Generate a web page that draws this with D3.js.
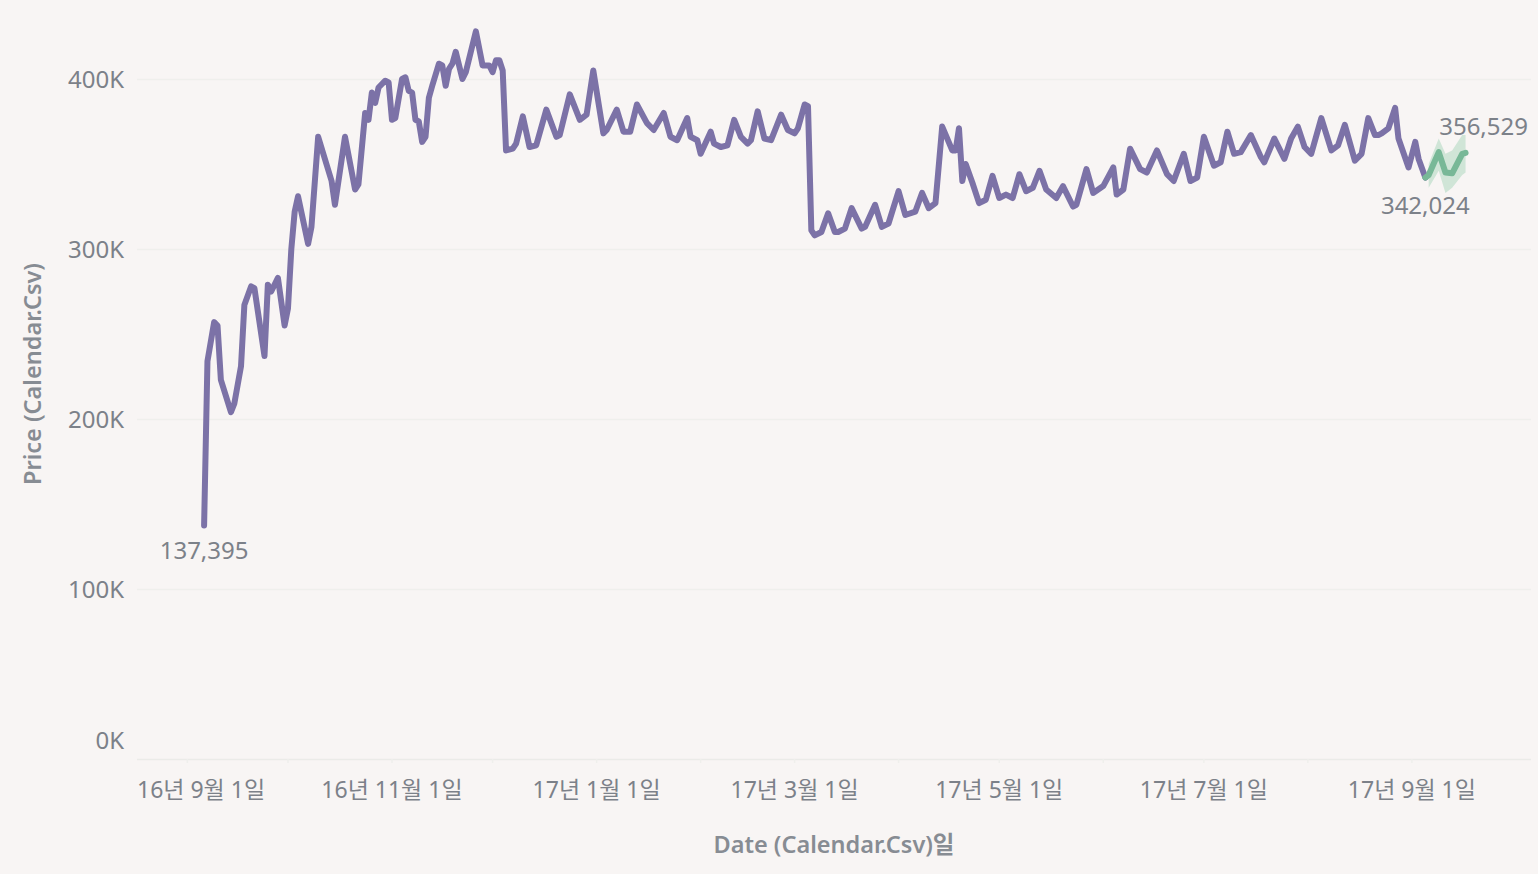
<!DOCTYPE html>
<html>
<head>
<meta charset="utf-8">
<script src="https://cdn.jsdelivr.net/npm/d3@7"></script>
<style>
  html, body { margin: 0; padding: 0; background: #f8f5f4; }
  svg { display: block; }
  text { font-family: "Noto Sans", "Noto Sans CJK KR", sans-serif; }
</style>
</head>
<body>
<svg id="chart"></svg>
<script>
var actualDates = [
  "2016-09-06","2016-09-07","2016-09-09","2016-09-10","2016-09-11","2016-09-14","2016-09-15","2016-09-17","2016-09-18","2016-09-20",
  "2016-09-21","2016-09-24","2016-09-25","2016-09-26","2016-09-28","2016-09-30","2016-10-01","2016-10-02","2016-10-03","2016-10-04",
  "2016-10-07","2016-10-08","2016-10-10","2016-10-14","2016-10-15","2016-10-18","2016-10-21","2016-10-22","2016-10-24","2016-10-25",
  "2016-10-26","2016-10-27","2016-10-28","2016-10-30","2016-10-31","2016-11-01","2016-11-02","2016-11-04","2016-11-05","2016-11-06",
  "2016-11-07","2016-11-08","2016-11-09","2016-11-10","2016-11-11","2016-11-12","2016-11-13","2016-11-15","2016-11-16","2016-11-17",
  "2016-11-18","2016-11-19","2016-11-20","2016-11-22","2016-11-23","2016-11-26","2016-11-28","2016-11-30","2016-12-01","2016-12-02",
  "2016-12-03","2016-12-04","2016-12-05","2016-12-07","2016-12-08","2016-12-10","2016-12-12","2016-12-14","2016-12-17","2016-12-20",
  "2016-12-21","2016-12-24","2016-12-27","2016-12-29","2016-12-31","2017-01-03","2017-01-04","2017-01-07","2017-01-09","2017-01-11",
  "2017-01-13","2017-01-16","2017-01-18","2017-01-21","2017-01-23","2017-01-25","2017-01-28","2017-01-29","2017-01-31","2017-02-01",
  "2017-02-04","2017-02-05","2017-02-07","2017-02-09","2017-02-11","2017-02-13","2017-02-15","2017-02-16","2017-02-18","2017-02-20",
  "2017-02-22","2017-02-25","2017-02-27","2017-03-01","2017-03-02","2017-03-04","2017-03-05","2017-03-06","2017-03-07","2017-03-09",
  "2017-03-11","2017-03-13","2017-03-14","2017-03-16","2017-03-18","2017-03-21","2017-03-22","2017-03-25","2017-03-27","2017-03-29",
  "2017-04-01","2017-04-03","2017-04-06","2017-04-08","2017-04-10","2017-04-12","2017-04-14","2017-04-17","2017-04-18","2017-04-19",
  "2017-04-20","2017-04-21","2017-04-23","2017-04-25","2017-04-27","2017-04-29","2017-05-01","2017-05-03","2017-05-05","2017-05-07",
  "2017-05-09","2017-05-11","2017-05-13","2017-05-15","2017-05-18","2017-05-20","2017-05-23","2017-05-24","2017-05-27","2017-05-29",
  "2017-06-01","2017-06-04","2017-06-05","2017-06-07","2017-06-09","2017-06-12","2017-06-14","2017-06-17","2017-06-20","2017-06-22",
  "2017-06-25","2017-06-27","2017-06-29","2017-07-01","2017-07-04","2017-07-06","2017-07-08","2017-07-10","2017-07-12","2017-07-15",
  "2017-07-18","2017-07-19","2017-07-22","2017-07-23","2017-07-25","2017-07-27","2017-07-29","2017-07-31","2017-08-02","2017-08-05",
  "2017-08-08","2017-08-10","2017-08-12","2017-08-15","2017-08-17","2017-08-19","2017-08-21","2017-08-22","2017-08-23","2017-08-25",
  "2017-08-27","2017-08-28","2017-08-31","2017-09-02","2017-09-03","2017-09-05"
];
var actualValues = [
  137395,234000,257000,255000,223000,204000,209000,231000,267000,278000,
  277000,237000,279000,275000,283000,255000,265000,300000,322000,331000,
  303000,313000,366000,340000,326000,366000,335000,338000,380000,376000,
  392000,386000,395000,399000,398000,376000,377000,400000,401000,393000,
  392000,376000,375000,363000,366000,389000,396000,409000,408000,396000,
  406000,409000,416000,400000,404000,428000,408000,408000,404000,411000,
  411000,405000,358000,359000,362000,378000,360000,361000,382000,366000,
  367000,391000,376000,379000,405000,368000,370000,382000,369000,369000,
  385000,374000,370000,380000,366000,364000,377000,366000,364000,356000,
  369000,362000,360000,361000,376000,366000,362000,364000,381000,365000,
  364000,379000,370000,368000,371000,385000,384000,311000,308000,310000,
  321000,310000,310000,312000,324000,312000,313000,326000,313000,315000,
  334000,320000,322000,333000,324000,327000,372000,358000,358000,371000,
  340000,350000,339000,327000,329000,343000,330000,332000,330000,344000,
  334000,336000,346000,335000,330000,337000,325000,326000,347000,333000,
  337000,348000,332000,335000,359000,347000,345000,358000,344000,340000,
  356000,340000,342000,366000,349000,351000,369000,356000,357000,367000,
  354000,351000,365000,361000,353000,365000,372000,360000,356000,377000,
  358000,361000,373000,352000,356000,377000,367000,367000,368000,371000,
  383000,365000,348000,363000,353000,342024
];

// forecast (green) with its prediction band
var forecastDates = ["2017-09-05","2017-09-06","2017-09-09","2017-09-11","2017-09-13","2017-09-16","2017-09-17"];
var forecastValues = [342024,343500,357000,345000,344500,356000,356529];
var bandDates = ["2017-09-06","2017-09-09","2017-09-11","2017-09-13","2017-09-16","2017-09-17"];
var bandUpper = [350000,365000,356000,358000,367000,367000];
var bandLower = [336000,346000,333000,336000,343500,345000];

var yTicks = [0,100000,200000,300000,400000];
var xTickDates = ["2016-09-01","2016-11-01","2017-01-01","2017-03-01","2017-05-01","2017-07-01","2017-09-01"];

var width = 1538, height = 874;
var parse = d3.timeParse("%Y-%m-%d");

var actual = actualDates.map((d, i) => ({ date: parse(d), value: actualValues[i] }));
var forecast = forecastDates.map((d, i) => ({ date: parse(d), value: forecastValues[i] }));
var band = bandDates.map((d, i) => ({ date: parse(d), hi: bandUpper[i], lo: bandLower[i] }));

var pane = { left: 137, right: 1531, top: 11, bottom: 759 };
var textColor = "#7c8189";

var x = d3.scaleTime()
    .domain([parse("2016-08-17"), parse("2017-10-06")])
    .range([pane.left, pane.left + 415 * 3.355]);
var y = d3.scaleLinear()
    .domain([0, 440000])
    .range([pane.bottom, pane.bottom - 440 * 1.7]);

var svg = d3.select("#chart")
    .attr("width", width)
    .attr("height", height);

svg.append("rect")
    .attr("width", width)
    .attr("height", height)
    .attr("fill", "#f8f5f4");

// gridlines
svg.append("g")
    .selectAll("line")
    .data(yTicks)
    .enter().append("line")
    .attr("x1", pane.left)
    .attr("x2", pane.right)
    .attr("y1", d => Math.round(y(d)) + 0.5)
    .attr("y2", d => Math.round(y(d)) + 0.5)
    .style("stroke", d => d === 0 ? "#ebebe8" : "#efefec")
    .style("stroke-width", 1.5);

// monthly ticks at the bottom
var months = d3.timeMonth.range(parse("2016-09-01"), parse("2017-10-01"));
svg.append("g")
    .selectAll("line")
    .data(months)
    .enter().append("line")
    .attr("x1", d => x(d))
    .attr("x2", d => x(d))
    .attr("y1", pane.bottom)
    .attr("y2", pane.bottom + 4)
    .style("stroke", "#efefec")
    .style("stroke-width", 1.5);

// y axis labels
var fmtK = v => (v / 1000) + "K";
svg.append("g")
    .selectAll("text")
    .data(yTicks)
    .enter().append("text")
    .attr("x", 124)
    .attr("y", d => Math.min(y(d) + 8.5, pane.bottom - 10))
    .attr("text-anchor", "end")
    .style("font-size", "24px")
    .style("fill", textColor)
    .text(fmtK);

// x axis labels
var fmtDate = d => d3.timeFormat("%y")(d) + "년 " + (d.getMonth() + 1) + "월 " + d.getDate() + "일";
svg.append("g")
    .selectAll("text")
    .data(xTickDates.map(parse))
    .enter().append("text")
    .attr("x", d => x(d))
    .attr("y", 798)
    .attr("text-anchor", "middle")
    .style("font-size", "23px")
    .style("fill", textColor)
    .text(fmtDate)
    .each(function() {
        // keep labels inside the pane like Tableau does
        var b = this.getBBox();
        if (b.x < pane.left) d3.select(this).attr("x", +d3.select(this).attr("x") + (pane.left - b.x));
    });

// axis titles
svg.append("text")
    .attr("transform", "translate(41,374) rotate(-90)")
    .attr("text-anchor", "middle")
    .style("font-size", "23.5px")
    .style("font-weight", 600)
    .style("fill", "#878c93")
    .text("Price (Calendar.Csv)");

svg.append("text")
    .attr("x", 834)
    .attr("y", 853)
    .attr("text-anchor", "middle")
    .style("font-size", "23.5px")
    .style("font-weight", 600)
    .style("fill", "#878c93")
    .text("Date (Calendar.Csv)일");

// forecast band
svg.append("path")
    .datum(band)
    .attr("d", d3.area().x(d => x(d.date)).y0(d => y(d.lo)).y1(d => y(d.hi)))
    .style("fill", "#cbe3d4")
    .style("opacity", 0.9);

// actual line
svg.append("path")
    .datum(actual)
    .attr("d", d3.line().x(d => x(d.date)).y(d => y(d.value)))
    .style("fill", "none")
    .style("stroke", "#7c72a7")
    .style("stroke-width", 6)
    .style("stroke-linejoin", "round")
    .style("stroke-linecap", "round");

// forecast line
svg.append("path")
    .datum(forecast)
    .attr("d", d3.line().x(d => x(d.date)).y(d => y(d.value)))
    .style("fill", "none")
    .style("stroke", "#78b897")
    .style("stroke-width", 6)
    .style("stroke-linejoin", "round")
    .style("stroke-linecap", "round");

// mark labels
var fmtNum = d3.format(",");
var first = actual[0], last = actual[actual.length - 1], end = forecast[forecast.length - 1];
var labels = [
  { d: first, dx: 0, dy: 34 },
  { d: last, dx: 0, dy: 36 },
  { d: end, dx: 18, dy: -18 }
];
svg.append("g")
    .selectAll("text")
    .data(labels)
    .enter().append("text")
    .attr("x", l => x(l.d.date) + l.dx)
    .attr("y", l => y(l.d.value) + l.dy)
    .attr("text-anchor", "middle")
    .style("font-size", "24px")
    .style("fill", textColor)
    .text(l => fmtNum(l.d.value));
</script>
</body>
</html>
